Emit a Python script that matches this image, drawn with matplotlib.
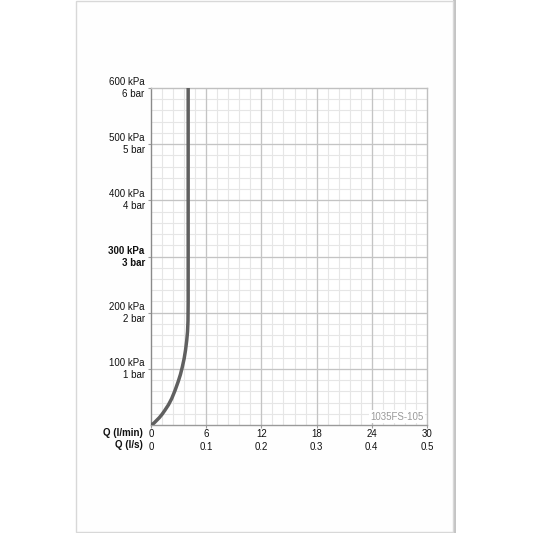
import matplotlib.pyplot as plt
from matplotlib.patches import Rectangle

# flow curve (l/min, kPa)
flow_lpm = [0, 0.3, 0.6, 0.9, 1.2, 1.5, 1.9, 2.25, 2.6, 2.95, 3.2, 3.4, 3.6, 3.75, 3.88, 3.97, 4.02, 4.04, 4.04]
pressure_kpa = [0, 3, 8, 13, 19, 26, 36, 47, 61, 77, 90, 103, 118, 133, 150, 166, 185, 220, 600]

x_ticks = [0, 6, 12, 18, 24, 30]
x_labels_ls = ['0', '0.1', '0.2', '0.3', '0.4', '0.5']
y_ticks = [100, 200, 300, 400, 500, 600]
y_labels = ['100 kPa\n1 bar', '200 kPa\n2 bar', '300 kPa\n3 bar',
            '400 kPa\n4 bar', '500 kPa\n5 bar', '600 kPa\n6 bar']

plt.rcParams['font.family'] = ['Liberation Sans', 'DejaVu Sans']

fig = plt.figure(figsize=(5.33, 5.33), dpi=100)
fig.patch.set_facecolor('white')

# page sheet with shadow on the right
fig.patches.append(Rectangle((453 / 533, 0), 3 / 533, 1, transform=fig.transFigure,
                             facecolor='#c4c4c4', edgecolor='none', zorder=-2))
fig.patches.append(Rectangle((76 / 533, 1 / 533), 377 / 533, 531 / 533, transform=fig.transFigure,
                             facecolor='#fefefe', edgecolor='#d8d8d8', linewidth=1, zorder=-1))

ax = fig.add_axes([151 / 533, 1 - 425 / 533, 276 / 533, 337 / 533])
ax.set_facecolor('white')
ax.set_xlim(0, 30)
ax.set_ylim(0, 600)

# grid
for x in [i * 1.2 for i in range(1, 25)]:
    ax.axvline(x, color='#e6e6e6', lw=0.8, zorder=1)
for y in range(20, 600, 20):
    ax.axhline(y, color='#e6e6e6', lw=0.8, zorder=1)
for x in x_ticks[1:-1]:
    ax.axvline(x, color='#c4c4c4', lw=0.9, zorder=2)
for y in y_ticks[:-1]:
    ax.axhline(y, color='#c4c4c4', lw=0.9, zorder=2)

ax.plot(flow_lpm, pressure_kpa, color='#606060', lw=2.5, solid_capstyle='butt',
        solid_joinstyle='round', zorder=4)

ax.text(29.6, 6, '1035FS-105', ha='right', va='bottom', fontsize=7, color='#9a9a9a', zorder=5,
        bbox=dict(facecolor='white', edgecolor='none', pad=1))

for side in ['top', 'right']:
    ax.spines[side].set_color('#c0c0c0')
ax.spines['left'].set_color('#8a8a8a')
ax.spines['bottom'].set_color('#9a9a9a')
for s in ax.spines.values():
    s.set_linewidth(1.0)
    s.set_zorder(3)

ax.set_xticks(x_ticks)
ax.set_xticklabels([f'{a}\n{b}' for a, b in zip(x_ticks, x_labels_ls)])
ax.set_yticks(y_ticks)
ax.set_yticklabels(y_labels)
ax.tick_params(axis='both', length=2.5, width=0.8, color='#9a9a9a', labelsize=7,
               labelcolor='#111111')
ax.tick_params(axis='x', pad=0.5)
ax.tick_params(axis='y', pad=2)
plt.setp(ax.get_xticklabels(), linespacing=1.35)
plt.setp(ax.get_yticklabels(), linespacing=1.25, multialignment='right', va='center')
ax.get_yticklabels()[2].set_fontweight('bold')

fig.text(143 / 533, 1 - 433 / 533, 'Q (l/min)', ha='right', va='center', fontsize=7,
         fontweight='bold', color='#111111')
fig.text(143 / 533, 1 - 445 / 533, 'Q (l/s)', ha='right', va='center', fontsize=7,
         fontweight='bold', color='#111111')

fig.savefig('out.png', dpi=100)
